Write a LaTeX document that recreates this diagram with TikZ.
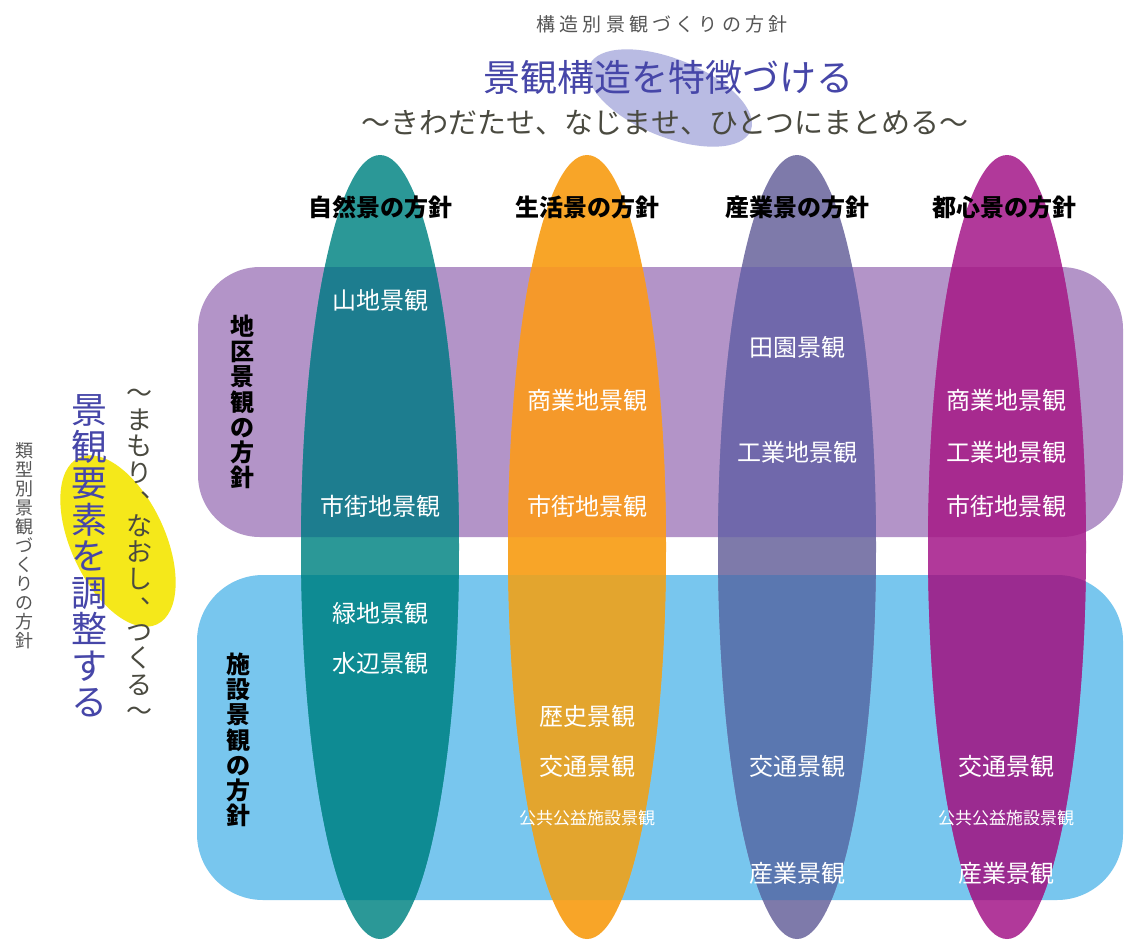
\documentclass[tikz,border=0pt]{standalone}
\usepackage{fontspec}
\newfontfamily\jp{Noto Sans CJK JP}
\newfontfamily\jpsp[LetterSpace=22]{Noto Sans CJK JP}
\newcommand{\vcomma}{\makebox[1em][l]{\kern0.55em\raisebox{0.42em}{、}}}
\definecolor{titlebg}{HTML}{B9BBE3}
\definecolor{titleblue}{HTML}{4646A8}
\definecolor{subgray}{HTML}{4A4A40}
\definecolor{smallgray}{HTML}{555555}
\definecolor{yel}{HTML}{F5E81A}
\definecolor{lav}{HTML}{B394C8}
\definecolor{sky}{HTML}{78C6EE}
\definecolor{tealO}{HTML}{2B9897}
\definecolor{tealL}{HTML}{1D7D8F}
\definecolor{tealB}{HTML}{0E8B93}
\definecolor{oranO}{HTML}{F8A528}
\definecolor{oranL}{HTML}{F5992A}
\definecolor{oranB}{HTML}{E3A52E}
\definecolor{slatO}{HTML}{7E7AAA}
\definecolor{slatL}{HTML}{7068AB}
\definecolor{slatB}{HTML}{5A77B0}
\definecolor{magO}{HTML}{B1399A}
\definecolor{magL}{HTML}{A72A8F}
\definecolor{magB}{HTML}{9B2B90}
\tikzset{
  lbl/.style={text=white, inner sep=0pt, font=\jp\fontsize{24}{26}\selectfont},
  lblsm/.style={text=white, inner sep=0pt, font=\jp\fontsize{17}{19}\selectfont},
  colhead/.style={text=black, inner sep=0pt, font=\jp\bfseries\fontsize{24}{26}\selectfont},
  rowhead/.style={text=black, inner sep=0pt, align=center, font=\jp\bfseries\fontsize{24}{25.2}\selectfont},
  lavbox/.style={fill=lav, rounded corners=62},
  skybox/.style={fill=sky, rounded corners=66},
}
\newcommand{\lavpath}{(198,267) rectangle (1123,537)}
\newcommand{\skypath}{(197,575) rectangle (1123,900)}
\begin{document}
\begin{tikzpicture}[x=1pt,y=-1pt]
\useasboundingbox (0,0) rectangle (1125,940);
\fill[white] (0,0) rectangle (1125,940);
% background ellipses
\fill[titlebg, rotate around={-22:(670,98)}] (670,98) ellipse [x radius=87, y radius=39];
\fill[yel, rotate around={-65:(118,541)}] (118,541) ellipse [x radius=92, y radius=47];
% rounded bands
\fill[lavbox] \lavpath;
\fill[skybox] \skypath;
% column ellipses
\foreach \cx/\co/\cl/\cb in {380/tealO/tealL/tealB, 587/oranO/oranL/oranB, 797/slatO/slatL/slatB, 1007/magO/magL/magB}{
  \fill[\co] (\cx,547) ellipse [x radius=79, y radius=392];
  \begin{scope}
    \clip (\cx,547) ellipse [x radius=79, y radius=392];
    \fill[\cl, rounded corners=62] \lavpath;
    \fill[\cb, rounded corners=66] \skypath;
  \end{scope}
}
% titles
\node[inner sep=0pt, text=smallgray, font=\jpsp\fontsize{19}{21}\selectfont] (t0) at (662,24) {構造別景観づくりの方針};
\node[inner sep=0pt, text=titleblue, font=\jp\fontsize{37}{40}\selectfont] (t1) at (668,77) {景観構造を特徴づける};
\node[inner sep=0pt, text=subgray, font=\jp\fontsize{29}{32}\selectfont] (t2) at (665,123) {～きわだたせ、なじませ、ひとつにまとめる～};
% left vertical texts
\node[inner sep=0pt, align=center, text=smallgray, font=\jp\fontsize{18}{19}\selectfont] (v0) at (25,546) {類\\型\\別\\景\\観\\づ\\く\\り\\の\\方\\針};
\node[inner sep=0pt, align=center, text=titleblue, font=\jp\fontsize{36}{36.5}\selectfont] (v1) at (89,556) {景\\観\\要\\素\\を\\調\\整\\す\\る};
\node[inner sep=0pt, align=center, text=subgray, font=\jp\fontsize{26}{26.5}\selectfont] (v2) at (139,555) {～\\ま\\も\\り\\\vcomma\\な\\お\\し\\\vcomma\\つ\\く\\る\\～};
% column headers
\node[colhead] (h1) at (380,207) {自然景の方針};
\node[colhead] (h2) at (587,207) {生活景の方針};
\node[colhead] (h3) at (797,207) {産業景の方針};
\node[colhead] (h4) at (1004,207) {都心景の方針};
% row headers
\node[rowhead] (r1) at (242,402) {地\\区\\景\\観\\の\\方\\針};
\node[rowhead] (r2) at (238,740) {施\\設\\景\\観\\の\\方\\針};
% column 1
\node[lbl] (a1) at (380,300) {山地景観};
\node[lbl] (a2) at (380,506) {市街地景観};
\node[lbl] (a3) at (380,613) {緑地景観};
\node[lbl] (a4) at (380,663) {水辺景観};
% column 2
\node[lbl] (b1) at (587,400) {商業地景観};
\node[lbl] (b2) at (587,506) {市街地景観};
\node[lbl] (b3) at (587,716) {歴史景観};
\node[lbl] (b4) at (587,766) {交通景観};
\node[lblsm] (b5) at (587,818) {公共公益施設景観};
% column 3
\node[lbl] (c1) at (797,347) {田園景観};
\node[lbl] (c2) at (797,452) {工業地景観};
\node[lbl] (c3) at (797,766) {交通景観};
\node[lbl] (c4) at (797,873) {産業景観};
% column 4
\node[lbl] (d1) at (1006,400) {商業地景観};
\node[lbl] (d2) at (1006,452) {工業地景観};
\node[lbl] (d3) at (1006,506) {市街地景観};
\node[lbl] (d4) at (1006,766) {交通景観};
\node[lblsm] (d5) at (1006,818) {公共公益施設景観};
\node[lbl] (d6) at (1006,873) {産業景観};
\end{tikzpicture}
\end{document}
